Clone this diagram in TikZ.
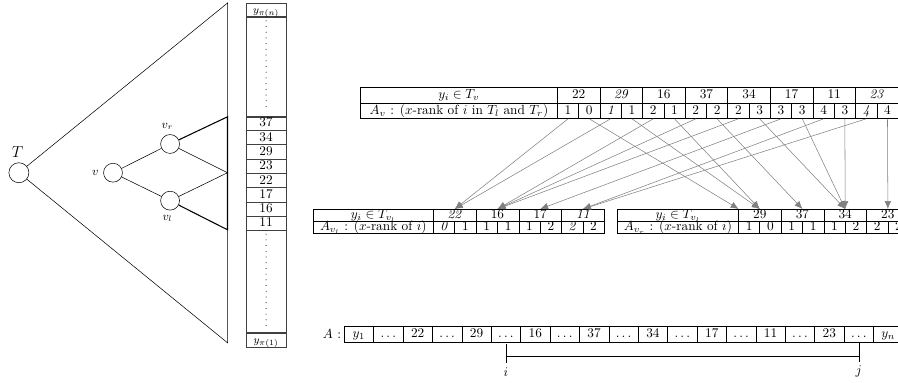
\documentclass[tikz,border=0pt]{standalone}
\usepackage{amsmath,amssymb}
\usetikzlibrary{arrows.meta, positioning}

\begin{document}
\begin{tikzpicture}[>=Stealth,
		tnode/.style={circle, draw, minimum size=0.5cm, inner sep=0pt},
		lcell/.style={draw=black!75, line width=0.6pt, minimum width=1.06cm, minimum height=0.378cm, inner sep=0pt, text height=1.5ex, text depth=0.25ex},
		hcell/.style={draw, minimum height=0.415cm, inner sep=0pt, anchor=north west, text height=1.5ex, text depth=0.25ex},
		bcell/.style={draw, minimum height=0.32cm, inner sep=0pt, anchor=north west, text height=1.5ex, text depth=0.25ex},
		acell/.style={draw, minimum width=0.778cm, minimum height=0.42cm, inner sep=0pt, anchor=north west, text height=1.5ex, text depth=0.25ex},
		vdots/.style={line width=0.8pt, dash pattern=on 0pt off 4.3pt, line cap=round},
		ptr/.style={-{Latex[length=6pt, width=5pt]}, black!50}]
		
		\useasboundingbox (0,0) rectangle (23.76,10.13);
		
		% Arvore T
		\node[tnode, minimum size=0.53cm, label={[font=\large, xshift=-1pt]above:$T$}] (T) at (0.50,5.56) {};
		\coordinate (ttop) at (6.02,10.05);
		\coordinate (tbot) at (6.02,1.06);
		\draw (T) -- (ttop) -- (tbot) -- (T);
		
		% No v e seus filhos
		\node[tnode, label={[font=\small]left:$v$}] (v) at (2.99,5.56) {};
		\node[tnode, label={[font=\small, xshift=-2pt]above:$v_r$}] (vr) at (4.50,6.32) {};
		\node[tnode, label={[font=\small, xshift=-2pt]below:$v_l$}] (vl) at (4.50,4.82) {};
		\coordinate (rtop) at (6.02,7.04);
		\coordinate (rmid) at (6.02,5.56);
		\coordinate (rbot) at (6.02,4.05);
		\draw (v) -- (vr);
		\draw (v) -- (vl);
		\draw (vr) -- (rmid) -- (vl);
		\draw[thick] (vr) -- (rtop) -- (rbot) -- (vl);
		
		% Lista ordenada por y
		\node[lcell, minimum height=0.344cm, anchor=north, font=\footnotesize] (pin) at (7.04,10.05) {$y_{\pi(n)}$};
		\node[lcell, minimum height=2.645cm, below=0pt of pin] (dup) {};
		\foreach \val [count=\k from 0] in {37,34,29,23,22,17,16,11}
			\node[lcell, anchor=north] (c\val) at (7.04,{7.065-0.378*\k}) {\val};
		\node[lcell, minimum height=2.69cm, anchor=north] (ddown) at (7.04,4.04) {};
		\node[lcell, minimum height=0.37cm, below=0pt of ddown, font=\footnotesize] (pi1) {$y_{\pi(1)}$};
		\draw[vdots] ([yshift=-3pt]dup.north) -- ([yshift=5pt]dup.south);
		\draw[vdots] ([yshift=-3pt]ddown.north) -- ([yshift=5pt]ddown.south);
		
		% Tabela de v
		\node[hcell, minimum width=5.21cm] (hv) at (9.53,7.83) {$y_i \in T_v$};
		\node[hcell, minimum width=5.21cm] (av) at (9.53,7.415) {$A_v$ : ($x$-rank of $i$ in $T_l$ and $T_r$)};
		\foreach \val [count=\k from 0] in {22,\textit{29},16,37,34,17,11,\textit{23}}
			\node[hcell, minimum width=1.127cm] (hv\k) at ({14.74+1.127*\k},7.83) {\val};
		\foreach \a/\b [count=\k from 0] in {1/0,\textit{1}/1,2/1,2/2,2/3,3/3,4/3,\textit{4}/4} {
			\node[hcell, minimum width=0.5635cm] (ta\k) at ({14.74+1.127*\k},7.415) {\a};
			\node[hcell, minimum width=0.5635cm] (tb\k) at ({15.3035+1.127*\k},7.415) {\b};
		}
		
		% Tabela de v_l
		\node[bcell, minimum width=3.18cm] (hl) at (8.28,4.60) {$y_i \in T_{v_l}$};
		\node[bcell, minimum width=3.18cm] (al) at (8.28,4.28) {$A_{v_l}$ : ($x$-rank of $i$)};
		\foreach \val [count=\k] in {\textit{22},16,17,\textit{11}}
			\node[bcell, minimum width=1.13cm] (l\k) at ({11.46+1.13*(\k-1)},4.60) {\val};
		\foreach \a/\b [count=\k from 0] in {\textit{0}/1,1/1,1/2,\textit{2}/2} {
			\node[bcell, minimum width=0.565cm] (la\k) at ({11.46+1.13*\k},4.28) {\a};
			\node[bcell, minimum width=0.565cm] (lb\k) at ({12.025+1.13*\k},4.28) {\b};
		}
		
		% Tabela de v_r
		\node[bcell, minimum width=3.2cm] (hr) at (16.33,4.60) {$y_i \in T_{v_l}$};
		\node[bcell, minimum width=3.2cm] (ar) at (16.33,4.28) {$A_{v_r}$ : ($x$-rank of $i$)};
		\foreach \val [count=\k] in {29,37,34,23}
			\node[bcell, minimum width=1.13cm] (r\k) at ({19.53+1.13*(\k-1)},4.60) {\val};
		\foreach \a/\b [count=\k from 0] in {1/0,1/1,1/2,2/2} {
			\node[bcell, minimum width=0.565cm] (ra\k) at ({19.53+1.13*\k},4.28) {\a};
			\node[bcell, minimum width=0.565cm] (rb\k) at ({20.095+1.13*\k},4.28) {\b};
		}
		
		% Ponteiros
		\coordinate (p0) at (hr.north east);
		\foreach \k in {1,...,4}
			\coordinate (p\k) at (r\k.north);
		\foreach \l/\r [count=\k from 0] in {1/0,1/1,2/1,2/2,2/3,3/3,4/3,4/4} {
			\draw[ptr] (ta\k.south) -- (l\l.north);
			\draw[ptr] (tb\k.south) -- (p\r);
		}
		
		% Vetor A
		\foreach \val [count=\k from 0] in {$y_1$,$\ldots$,22,$\ldots$,29,$\ldots$,16,$\ldots$,37,$\ldots$,34,$\ldots$,17,$\ldots$,11,$\ldots$,23,$\ldots$,$y_n$}
			\node[acell] (a\k) at ({9.10+0.778*\k},1.51) {\val};
		\node[anchor=east, inner sep=2pt] (alab) at (a0.west) {$A$ :};
		
		% Intervalo [i,j]
		\node (ilab) at (a5 |- 0,0.29) {$i$};
		\node (jlab) at (a17 |- 0,0.29) {$j$};
		\draw (ilab.north) -- ++(0,0.5);
		\draw (jlab.north) -- ++(0,0.5);
		\draw (ilab.north |- 0,0.714) -- (jlab.north |- 0,0.714);
		
	\end{tikzpicture}
\end{document}
